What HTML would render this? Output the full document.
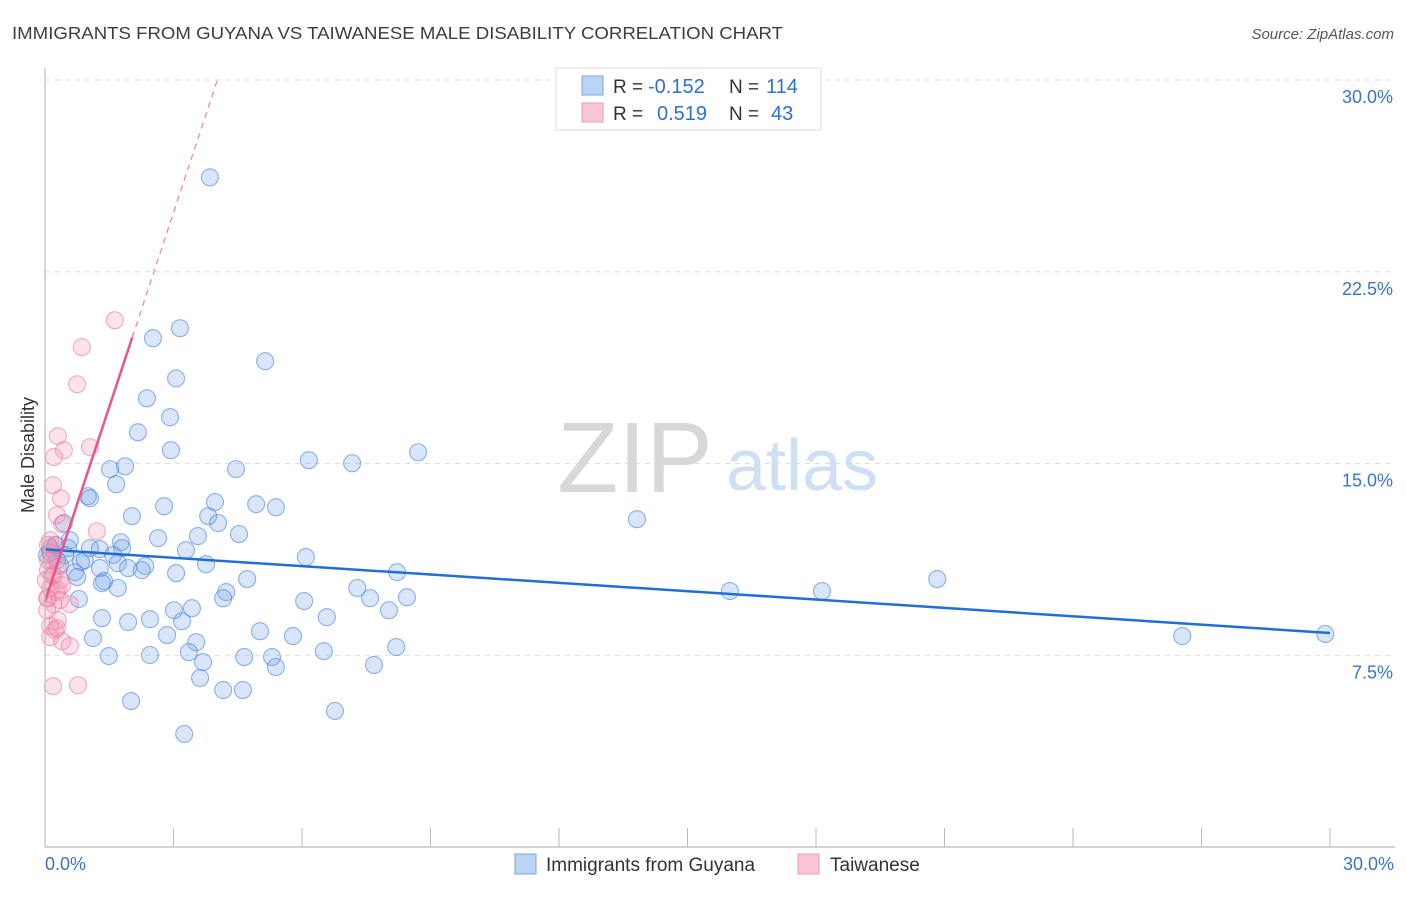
<!DOCTYPE html>
<html><head><meta charset="utf-8"><style>
body{margin:0;background:#fff;font-family:"Liberation Sans",sans-serif;}
svg text{font-family:"Liberation Sans",sans-serif;}
</style></head><body>
<svg id="chart" width="1406" height="892" xmlns="http://www.w3.org/2000/svg">
<text x="12" y="39" font-size="17.5" fill="#3d3d3d" textLength="771" lengthAdjust="spacingAndGlyphs">IMMIGRANTS FROM GUYANA VS TAIWANESE MALE DISABILITY CORRELATION CHART</text>
<text x="1394" y="39" font-size="15" fill="#555" font-style="italic" text-anchor="end">Source: ZipAtlas.com</text>
<g id="grid"></g>
<g>
<text x="635" y="492" font-size="100" fill="#d8d8d8" font-family="Liberation Serif" text-anchor="middle">ZIP</text>
<text x="802" y="490" font-size="72" fill="#cfe0f3" text-anchor="middle">atlas</text>
</g>
<g id="marks"></g>
<line x1="45" y1="68" x2="45" y2="847" stroke="#bbb" stroke-width="1.2"/>
<line x1="45" y1="847" x2="1395" y2="847" stroke="#bbb" stroke-width="1.2"/>
<text transform="translate(34,455) rotate(-90)" font-size="18" fill="#333" text-anchor="middle">Male Disability</text>
<text x="45" y="870" font-size="18" fill="#3b73c8">0.0%</text>
<text x="1394" y="870" font-size="18" fill="#3b73c8" text-anchor="end">30.0%</text>
<g>
<rect x="556" y="68" width="265" height="62" fill="#fff" stroke="#ddd"/>
<rect x="582" y="76" width="21" height="19" fill="#bcd4f4" stroke="#7aa5e0"/>
<rect x="582" y="103" width="21" height="19" fill="#f8c6d5" stroke="#ef9ab5"/>
<text x="613" y="93" font-size="19" fill="#333">R =</text>
<text x="648" y="93" font-size="20" fill="#2f6fd0">-0.152</text>
<text x="729" y="93" font-size="19" fill="#333">N =</text>
<text x="766" y="93" font-size="20" fill="#2f6fd0">114</text>
<text x="613" y="120" font-size="19" fill="#333">R =</text>
<text x="657" y="120" font-size="20" fill="#2f6fd0">0.519</text>
<text x="729" y="120" font-size="19" fill="#333">N =</text>
<text x="771" y="120" font-size="20" fill="#2f6fd0">43</text>
</g>
<g>
<rect x="515" y="854" width="21" height="20" fill="#bcd4f4" stroke="#7aa5e0"/>
<text x="546" y="871" font-size="19" fill="#333">Immigrants from Guyana</text>
<rect x="798" y="854" width="21" height="20" fill="#f8c6d5" stroke="#ef9ab5"/>
<text x="830" y="871" font-size="19" fill="#333">Taiwanese</text>
</g>
</svg>
<script>
const yTicks=[7.5,15,22.5,30];
const yTickLabels=["7.5%","15.0%","22.5%","30.0%"];
const xTicks=[0,3,6,9,12,15,18,21,24,27,30];
const guyanaX=[3.85,3.15,2.52,5.14,3.06,2.38,2.92,2.17,2.94,8.71,6.16,7.17,1.87,1.52,4.46,1.66,1.00,1.05,3.97,4.93,2.78,5.39,2.03,3.81,4.04,0.44,4.53,2.64,3.57,0.58,1.77,0.26,3.29,1.05,1.28,1.80,6.09,0.12,0.47,0.28,0.84,1.59,1.70,2.34,3.76,1.94,2.26,1.28,0.70,0.75,3.06,8.22,4.72,1.38,13.82,1.33,1.70,7.29,4.23,15.99,18.14,20.83,0.79,4.16,7.59,8.45,6.05,3.01,3.43,8.03,1.33,2.45,6.58,3.20,1.94,2.85,5.02,5.79,1.12,3.53,26.55,29.89,8.20,1.49,2.45,3.36,4.65,5.30,6.51,3.69,5.39,7.68,3.62,4.16,4.62,2.01,6.77,3.25,0.05,0.12,0.35,0.54,0.93];
const guyanaY=[26.19,20.29,19.90,19.00,18.33,17.55,16.81,16.22,15.52,15.44,15.13,15.01,14.89,14.78,14.78,14.19,13.72,13.64,13.49,13.41,13.33,13.29,12.94,12.94,12.67,12.67,12.24,12.08,12.16,12.00,11.92,11.81,11.61,11.69,11.65,11.69,11.34,11.53,11.42,11.22,11.14,11.42,11.10,10.99,11.06,10.91,10.83,10.91,10.75,10.56,10.71,10.75,10.48,10.40,12.82,10.32,10.13,10.13,9.97,10.01,10.01,10.48,9.70,9.73,9.73,9.77,9.62,9.26,9.34,9.26,8.95,8.91,8.99,8.83,8.80,8.29,8.44,8.25,8.17,8.01,8.25,8.33,7.82,7.47,7.51,7.62,7.43,7.43,7.66,7.23,7.04,7.12,6.61,6.14,6.14,5.71,5.32,4.42,11.42,11.69,11.02,11.69,11.22];
const taiwanX=[1.63,0.86,0.75,1.05,0.30,0.44,0.21,0.19,0.37,1.21,0.28,0.40,0.12,0.16,0.30,0.07,0.21,0.35,0.12,0.26,0.07,0.19,0.58,0.30,0.12,0.23,0.12,0.40,0.58,0.19,0.77,0.07,0.23,0.02,0.05,0.16,0.30,0.07,0.16,0.40,0.05,0.35,0.28];
const taiwanY=[20.60,19.55,18.10,15.64,16.07,15.52,15.25,14.15,13.64,12.35,12.98,12.63,12.00,11.49,10.99,10.83,10.63,10.44,10.13,9.97,9.73,9.50,9.50,8.87,8.64,8.48,8.21,8.05,7.86,6.29,6.33,11.22,11.81,10.44,9.26,10.63,10.05,11.81,11.22,10.24,9.73,9.66,8.56];

const NS="http://www.w3.org/2000/svg";
const X=v=>45+v*(1330-45)/30;
const Y=v=>847-v*(847-80)/30;
const grid=document.getElementById('grid');
const marks=document.getElementById('marks');
function mk(tag,attrs,parent){const e=document.createElementNS(NS,tag);for(const k in attrs)e.setAttribute(k,attrs[k]);parent.appendChild(e);return e;}
yTicks.forEach((t,i)=>{
  const l=mk('line',{x1:45,x2:1395,y1:Y(t),y2:Y(t),stroke:'#ddd','stroke-dasharray':'5,5'},grid);
  
  
  const tx=mk('text',{x:1393,y:Y(t)+23,'font-size':18,fill:'#3b73c8','text-anchor':'end'},grid);
  tx.textContent=yTickLabels[i];
  
  
});
xTicks.forEach(t=>{
  const l=mk('line',{x1:X(t),x2:X(t),y1:828,y2:847,stroke:'#bbb'},grid);
  
  
});
function fit(xs,ys){const n=xs.length;let mx=0,my=0;for(let i=0;i<n;i++){mx+=xs[i];my+=ys[i];}mx/=n;my/=n;let sxy=0,sxx=0;for(let i=0;i<n;i++){sxy+=(xs[i]-mx)*(ys[i]-my);sxx+=(xs[i]-mx)**2;}const b=sxy/sxx;return [my-b*mx,b];}
function pts(xs,ys,fill,stroke,name){
  xs.forEach((x,i)=>{
    const c=mk('circle',{cx:X(x),cy:Y(ys[i]),r:8.5,fill:fill,stroke:stroke,'stroke-width':1.1},marks);
    
    
  });
}
pts(guyanaX,guyanaY,'rgba(120,165,235,0.28)','rgba(70,130,220,0.6)','guyana-point');
pts(taiwanX,taiwanY,'rgba(245,150,180,0.28)','rgba(235,120,160,0.6)','taiwanese-point');
const [ga,gb]=fit(guyanaX,guyanaY);
const gl=mk('line',{x1:X(0),y1:Y(ga),x2:X(30),y2:Y(ga+gb*30),stroke:'#1f6fd6','stroke-width':2.5},marks);


const [ta,tb]=fit(taiwanX,taiwanY);
const tEnd=Math.max(...taiwanX)*1.25;
const tl=mk('line',{x1:X(0),y1:Y(ta),x2:X(tEnd),y2:Y(ta+tb*tEnd),stroke:'#e8558a','stroke-width':2.5},marks);


const xEnd=(30-ta)/tb;
const td=mk('line',{x1:X(tEnd),y1:Y(ta+tb*tEnd),x2:X(xEnd),y2:Y(30),stroke:'#ec8aa8','stroke-width':1.3,'stroke-dasharray':'6,5'},marks);


</script>
</body></html>
